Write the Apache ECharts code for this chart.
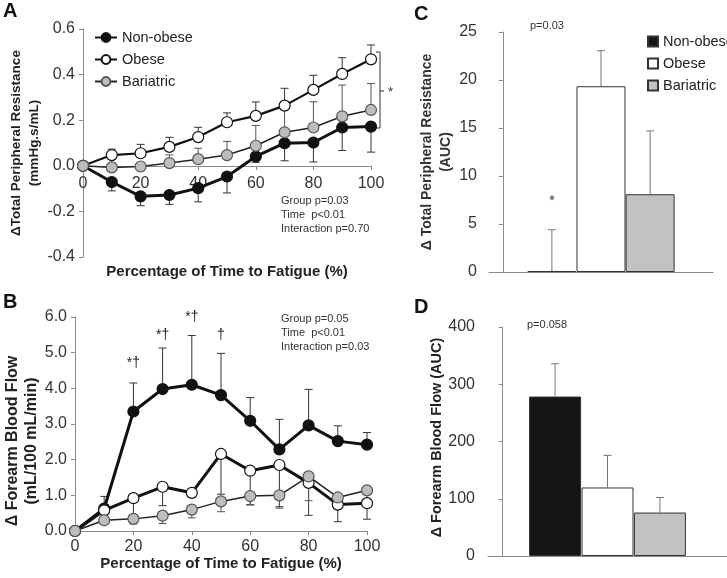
<!DOCTYPE html>
<html>
<head>
<meta charset="utf-8">
<script src="https://cdn.jsdelivr.net/npm/echarts@6/dist/echarts.min.js"></script>
<style>
  html, body { margin: 0; padding: 0; background: #fff; }
  #chart { width: 727px; height: 578px; }
</style>
</head>
<body>
<div id="chart"></div>
<script>
// time points (% of time to fatigue)
const timePct = [0, 10, 20, 30, 40, 50, 60, 70, 80, 90, 100];

// A: change in total peripheral resistance, with error bar ends
const tprNonObese = [0, -0.071, -0.134, -0.128, -0.098, -0.047, 0.041, 0.099, 0.102, 0.168, 0.172];
const tprNonObeseErr = [null, -0.110, -0.175, -0.169, -0.158, -0.119, 0.015, 0.022, 0.017, 0.067, 0.060];
const tprObese = [0, 0.047, 0.055, 0.083, 0.126, 0.191, 0.219, 0.264, 0.333, 0.403, 0.467];
const tprObeseErr = [null, 0.073, 0.094, 0.125, 0.169, 0.232, 0.280, 0.340, 0.397, 0.474, 0.530];
const tprBariatric = [0, -0.007, -0.003, 0.012, 0.029, 0.047, 0.088, 0.147, 0.168, 0.217, 0.245];
const tprBariatricErr = [null, -0.002, 0.008, 0.048, 0.077, 0.107, 0.177, 0.260, 0.281, 0.354, 0.361];

// B: change in forearm blood flow, with error bar ends
const fbfNonObese = [0, 0.63, 3.35, 3.98, 4.10, 3.81, 3.09, 2.29, 2.96, 2.52, 2.42];
const fbfNonObeseErr = [null, 0.97, 4.15, 5.13, 5.48, 4.98, 3.74, 3.13, 3.97, 2.95, 2.76];
const fbfObese = [0, 0.58, 0.92, 1.24, 1.07, 2.16, 1.69, 1.85, 1.35, 0.74, 0.78];
const fbfObeseErr = [null, 0.50, 0.45, 0.71, 0.95, 1.03, 0.73, 0.68, 0.44, 0.26, 0.33];
const fbfBariatric = [0, 0.30, 0.34, 0.43, 0.60, 0.83, 0.98, 1.00, 1.53, 0.94, 1.14];
const fbfBariatricErr = [null, 0.18, 0.20, 0.21, 0.37, 0.54, 0.74, 0.64, 0.85, 0.70, 0.90];

// B: significance marks above non-obese points
const fbfMarkX = [20, 30, 40, 50];
const fbfMarkY = [4.72, 5.50, 5.99, 5.50];
const fbfMarkText = ['*†', '*†', '*†', '†'];

// C / D: area under the curve
const groups = ['Non-obese', 'Obese', 'Bariatric'];
const tprAuc = [0.1, 19.35, 8.1];
const tprAucErr = [4.4, 23.05, 14.7];
const fbfAuc = [278.5, 119.7, 75.9];
const fbfAucErr = [335.8, 175.8, 102.2];

const FONT = 'Liberation Sans, Arial, sans-serif';
const AXIS_COLOR = '#8a8a8a';
const groupColors = ['#151515', '#ffffff', '#c2c2c2'];

function errPairs(xs, mean, end) {
  return xs.map((x, i) => end[i] == null ? null : [x, mean[i], end[i]]).filter(Boolean);
}

// vertical error bar with a cap at its end
function errorSeries(data, xi, color, cap) {
  return {
    type: 'custom',
    xAxisIndex: xi,
    yAxisIndex: xi,
    silent: true,
    z: 1,
    data: data,
    renderItem(params, api) {
      const a = api.coord([api.value(0), api.value(1)]);
      const b = api.coord([api.value(0), api.value(2)]);
      const style = { stroke: color, lineWidth: 1 };
      return {
        type: 'group',
        children: [
          { type: 'line', shape: { x1: a[0], y1: a[1], x2: b[0], y2: b[1] }, style },
          { type: 'line', shape: { x1: b[0] - cap, y1: b[1], x2: b[0] + cap, y2: b[1] }, style }
        ]
      };
    }
  };
}

function lineSeries(name, vals, xi, fill, border, width, lineColor) {
  return {
    name: name,
    type: 'line',
    xAxisIndex: xi,
    yAxisIndex: xi,
    z: 3,
    data: timePct.map((x, i) => [x, vals[i]]),
    symbol: 'circle',
    symbolSize: 11,
    showSymbol: true,
    lineStyle: { color: lineColor, width: width },
    itemStyle: { color: fill, borderColor: border, borderWidth: 1.2 }
  };
}

function barSeries(name, vals, i, xi, width) {
  return {
    name: name + ' AUC',
    type: 'bar',
    xAxisIndex: xi,
    yAxisIndex: xi,
    barWidth: width,
    barGap: '-100%',
    z: 2,
    data: [[i + 1, vals[i]]],
    itemStyle: { color: groupColors[i], borderColor: '#333', borderWidth: 1 }
  };
}

const valueAxisBase = {
  splitLine: { show: false },
  axisLine: { show: true, onZero: true, lineStyle: { color: AXIS_COLOR } },
  axisTick: { show: true, length: 4, lineStyle: { color: AXIS_COLOR } },
  axisLabel: { color: '#333', fontSize: 16, fontFamily: FONT }
};

const chart = echarts.init(document.getElementById('chart'));

const option = {
  animation: false,
  textStyle: { fontFamily: FONT },
  grid: [
    { left: 83, top: 29, width: 288, height: 228 },
    { left: 75, top: 317, width: 292, height: 214 },
    { left: 489, top: 32, width: 224, height: 240 },
    { left: 488, top: 327, width: 239, height: 229 }
  ],
  xAxis: [
    Object.assign({}, valueAxisBase, {
      // the axis sits on y = 0, which is 0.4/1.0 of the grid height above the bottom
      gridIndex: 0, type: 'value', min: 0, max: 100, interval: 20,
      offset: -91,
      axisLine: { show: true, onZero: false, lineStyle: { color: AXIS_COLOR } },
      axisLabel: Object.assign({}, valueAxisBase.axisLabel, { margin: 10 }),
      name: 'Percentage of Time to Fatigue (%)', nameLocation: 'middle', nameGap: 98,
      nameTextStyle: { fontSize: 15, fontWeight: 'bold', color: '#222', fontFamily: FONT, verticalAlign: 'top' }
    }),
    Object.assign({}, valueAxisBase, {
      gridIndex: 1, type: 'value', min: 0, max: 100, interval: 20,
      axisLabel: Object.assign({}, valueAxisBase.axisLabel, { margin: 8 }),
      name: 'Percentage of Time to Fatigue (%)', nameLocation: 'middle', nameGap: 19,
      nameTextStyle: { fontSize: 15, fontWeight: 'bold', color: '#222', fontFamily: FONT, verticalAlign: 'top' }
    }),
    {
      gridIndex: 2, type: 'value', min: -0.28, max: 4.28,
      splitLine: { show: false }, axisTick: { show: false }, axisLabel: { show: false },
      axisLine: { show: true, lineStyle: { color: AXIS_COLOR } }
    },
    {
      gridIndex: 3, type: 'value', min: -0.28, max: 4.28,
      splitLine: { show: false }, axisTick: { show: false }, axisLabel: { show: false },
      axisLine: { show: true, lineStyle: { color: AXIS_COLOR } }
    }
  ],
  yAxis: [
    Object.assign({}, valueAxisBase, {
      gridIndex: 0, type: 'value', min: -0.4, max: 0.6, interval: 0.2,
      axisLabel: Object.assign({}, valueAxisBase.axisLabel, { formatter: v => v.toFixed(1) }),
      name: 'ΔTotal Peripheral Resistance\n(mmHg.s/mL)', nameLocation: 'middle', nameGap: 39,
      nameTextStyle: { fontSize: 13.5, fontWeight: 'bold', color: '#222', lineHeight: 18, fontFamily: FONT }
    }),
    Object.assign({}, valueAxisBase, {
      gridIndex: 1, type: 'value', min: 0, max: 6, interval: 1,
      axisLabel: Object.assign({}, valueAxisBase.axisLabel, { formatter: v => v.toFixed(1) }),
      name: 'Δ Forearm Blood Flow\n(mL/100 mL/min)', nameLocation: 'middle', nameGap: 29,
      nameTextStyle: { fontSize: 16, fontWeight: 'bold', color: '#222', lineHeight: 19, fontFamily: FONT, padding: [0, 34, 0, 0] }
    }),
    Object.assign({}, valueAxisBase, {
      gridIndex: 2, type: 'value', min: 0, max: 25, interval: 5,
      axisLabel: Object.assign({}, valueAxisBase.axisLabel, { margin: 12 }),
      name: 'Δ Total Peripheral Resistance\n(AUC)', nameLocation: 'middle', nameGap: 30,
      nameTextStyle: { fontSize: 14, fontWeight: 'bold', color: '#333', lineHeight: 19, fontFamily: FONT }
    }),
    Object.assign({}, valueAxisBase, {
      gridIndex: 3, type: 'value', min: 0, max: 400, interval: 100,
      axisLabel: Object.assign({}, valueAxisBase.axisLabel, { margin: 13 }),
      name: 'Δ Forearm Blood Flow (AUC)', nameLocation: 'middle', nameGap: 40,
      nameTextStyle: { fontSize: 14.5, fontWeight: 'bold', color: '#222', fontFamily: FONT, padding: [0, 0, 0, 8] }
    })
  ],
  legend: [
    {
      data: ['Non-obese', 'Obese', 'Bariatric'],
      orient: 'vertical', left: 89, top: 25,
      itemWidth: 22, itemHeight: 11, itemGap: 7,
      textStyle: { fontSize: 14.5, color: '#222', fontFamily: FONT }
    },
    {
      data: groups.map(g => g + ' AUC'),
      formatter: name => name.replace(' AUC', ''),
      orient: 'vertical', left: 642, top: 29,
      icon: 'rect', itemWidth: 10, itemHeight: 10, itemGap: 7,
      textStyle: { fontSize: 14.5, color: '#222', fontFamily: FONT }
    }
  ],
  graphic: [
    { type: 'text', left: 3, top: 1, style: { text: 'A', font: 'bold 20px ' + FONT, fill: '#111' } },
    { type: 'text', left: 3, top: 292, style: { text: 'B', font: 'bold 20px ' + FONT, fill: '#111' } },
    { type: 'text', left: 414, top: 4, style: { text: 'C', font: 'bold 20px ' + FONT, fill: '#111' } },
    { type: 'text', left: 414, top: 297, style: { text: 'D', font: 'bold 20px ' + FONT, fill: '#111' } },
    { type: 'text', left: 281, top: 194, style: { text: 'Group p=0.03\nTime  p<0.01\nInteraction p=0.70', font: '11px ' + FONT, fill: '#333', lineHeight: 14 } },
    { type: 'text', left: 281, top: 312, style: { text: 'Group p=0.05\nTime  p<0.01\nInteraction p=0.03', font: '11px ' + FONT, fill: '#333', lineHeight: 14 } },
    { type: 'text', left: 530, top: 20, style: { text: 'p=0.03', font: '11px ' + FONT, fill: '#333' } },
    { type: 'text', left: 527, top: 319, style: { text: 'p=0.058', font: '11px ' + FONT, fill: '#333' } },
    { type: 'polyline', shape: { points: [[376, 52], [380, 52], [380, 128], [376, 128]] }, style: { stroke: '#333', lineWidth: 1, fill: null } },
    { type: 'line', shape: { x1: 380, y1: 91, x2: 384, y2: 91 }, style: { stroke: '#333', lineWidth: 1 } },
    { type: 'text', left: 388, top: 86, style: { text: '*', font: '13px ' + FONT, fill: '#333' } }
  ],
  series: [
    // panel A
    errorSeries(errPairs(timePct, tprNonObese, tprNonObeseErr), 0, '#333', 4),
    errorSeries(errPairs(timePct, tprObese, tprObeseErr), 0, '#333', 4),
    errorSeries(errPairs(timePct, tprBariatric, tprBariatricErr), 0, '#555', 4),
    lineSeries('Non-obese', tprNonObese, 0, '#111', '#111', 3, '#111'),
    lineSeries('Obese', tprObese, 0, '#fff', '#111', 2.2, '#111'),
    lineSeries('Bariatric', tprBariatric, 0, '#bdbdbd', '#555', 1.5, '#222'),
    // panel B
    errorSeries(errPairs(timePct, fbfNonObese, fbfNonObeseErr), 1, '#333', 4),
    errorSeries(errPairs(timePct, fbfObese, fbfObeseErr), 1, '#333', 4),
    errorSeries(errPairs(timePct, fbfBariatric, fbfBariatricErr), 1, '#555', 4),
    Object.assign(lineSeries('Non-obese', fbfNonObese, 1, '#111', '#111', 3, '#111'), {
      markPoint: {
        symbol: 'circle', symbolSize: 0, silent: true,
        label: { show: true, position: 'inside', color: '#222', fontSize: 14, formatter: p => p.name },
        data: fbfMarkX.map((x, i) => ({ name: fbfMarkText[i], coord: [x, fbfMarkY[i]] }))
      }
    }),
    lineSeries('Obese', fbfObese, 1, '#fff', '#111', 3, '#111'),
    lineSeries('Bariatric', fbfBariatric, 1, '#bdbdbd', '#555', 1.5, '#222'),
    // panel C
    Object.assign(barSeries(groups[0], tprAuc, 0, 2, 49), {
      markPoint: {
        symbol: 'circle', symbolSize: 0, silent: true,
        label: { show: true, position: 'inside', color: '#333', fontSize: 14, formatter: '*' },
        data: [{ coord: [1, 7.4] }]
      }
    }),
    barSeries(groups[1], tprAuc, 1, 2, 49),
    barSeries(groups[2], tprAuc, 2, 2, 49),
    errorSeries(groups.map((g, i) => [i + 1, tprAuc[i], tprAucErr[i]]), 2, '#777', 4),
    // panel D
    barSeries(groups[0], fbfAuc, 0, 3, 52),
    barSeries(groups[1], fbfAuc, 1, 3, 52),
    barSeries(groups[2], fbfAuc, 2, 3, 52),
    errorSeries(groups.map((g, i) => [i + 1, fbfAuc[i], fbfAucErr[i]]), 3, '#777', 4)
  ]
};

chart.setOption(option);
</script>
</body>
</html>
